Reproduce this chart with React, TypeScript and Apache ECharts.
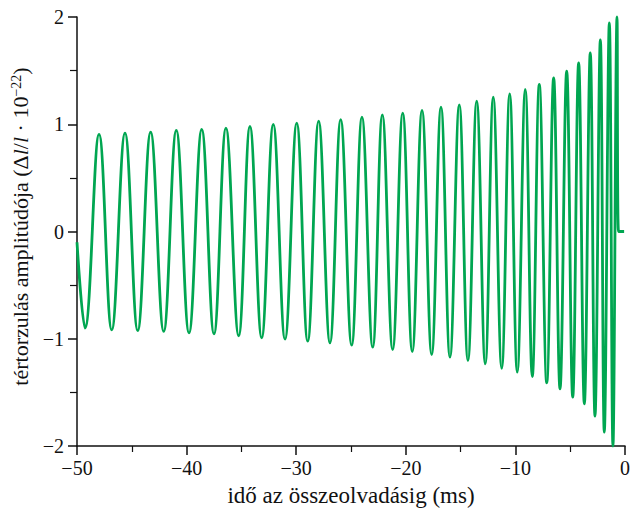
import React, { useEffect, useRef } from "react";
import * as echarts from "echarts";

// time before merger (ms) of each turning point of the waveform
const timeMs = [
  -50, -49.27, -47.99, -46.83, -45.62, -44.46, -43.28, -42.09, -40.94, -39.78,
  -38.62, -37.5, -36.41, -35.25, -34.22, -33.15, -32.09, -31.02, -29.95, -28.95,
  -27.95, -26.92, -25.94, -24.94, -24.0, -23.02, -22.14, -21.2, -20.28, -19.41,
  -18.52, -17.64, -16.79, -15.97, -15.12, -14.33, -13.53, -12.75, -12.02, -11.25,
  -10.52, -9.83, -9.1, -8.46, -7.82, -7.14, -6.51, -5.93, -5.32, -4.77,
  -4.23, -3.71, -3.17, -2.74, -2.25, -1.89, -1.43, -1.1, -0.73, -0.59, -0.08,
];
// strain amplitude (Δl/l · 10^-22) at those points
const strain = [
  -0.1, -0.9, 0.905, -0.917, 0.917, -0.923, 0.926, -0.932, 0.942, -0.945,
  0.951, -0.954, 0.963, -0.972, 0.979, -0.991, 0.998, -1.004, 1.01, -1.023,
  1.029, -1.038, 1.044, -1.06, 1.066, -1.079, 1.088, -1.1, 1.103, -1.119,
  1.128, -1.147, 1.159, -1.172, 1.181, -1.203, 1.215, -1.234, 1.252, -1.275,
  1.284, -1.312, 1.324, -1.352, 1.371, -1.411, 1.433, -1.467, 1.495, -1.545,
  1.573, -1.606, 1.666, -1.722, 1.787, -1.871, 1.946, -2.0, 2.0, 0, 0,
];

const xTitle = "idő az összeolvadásig (ms)";
const yTitle =
  "{a|tértorzulás amplitúdója (Δ}{i|l}{a|/}{i|l}{a| · 10}{s|−22}{a|)}";

const FONT = "'Liberation Serif', 'DejaVu Serif', serif";
const minus = (v: number) => String(v).replace("-", "−");

export default function App() {
  const ref = useRef<HTMLDivElement>(null);
  useEffect(() => {
    if (!ref.current) return;
    const chart = echarts.init(ref.current, undefined, { renderer: "svg" });
    const data = timeMs.map((t, i) => [t, strain[i]]);
    chart.setOption({
      animation: false,
      backgroundColor: "#ffffff",
      grid: { left: 77, right: 5, top: 17, bottom: 66, outerBoundsMode: "none", containLabel: false },
      xAxis: {
        type: "value",
        min: -50,
        max: 0,
        interval: 10,
        name: xTitle,
        nameLocation: "middle",
        nameGap: 38,
        nameTextStyle: { fontFamily: FONT, fontSize: 23, color: "#111" },
        axisLine: { show: true, onZero: false, lineStyle: { color: "#111", width: 1.5 } },
        axisTick: { show: true, inside: false, length: 9, lineStyle: { color: "#111", width: 1.5 } },
        minorTick: { show: true, splitNumber: 2, length: 6, lineStyle: { color: "#111", width: 1.2 } },
        axisLabel: { fontFamily: FONT, fontSize: 20, color: "#111", margin: 12, formatter: minus },
        splitLine: { show: false },
      },
      yAxis: {
        type: "value",
        min: -2,
        max: 2,
        interval: 1,
        name: yTitle,
        nameLocation: "middle",
        nameGap: 42,
        nameTextStyle: {
          fontFamily: FONT,
          fontSize: 22,
          color: "#111",
          padding: [0, 0, 0, 10],
          rich: {
            a: { fontFamily: FONT, fontSize: 22, color: "#111" },
            i: { fontFamily: FONT, fontSize: 22, fontStyle: "italic", color: "#111" },
            s: { fontFamily: FONT, fontSize: 14, color: "#111", verticalAlign: "top", padding: [0, 0, 8, 0] },
          },
        },
        axisLine: { show: true, onZero: false, lineStyle: { color: "#111", width: 1.5 } },
        axisTick: { show: true, inside: false, length: 9, lineStyle: { color: "#111", width: 1.5 } },
        minorTick: { show: true, splitNumber: 2, length: 7, lineStyle: { color: "#111", width: 1.2 } },
        axisLabel: { fontFamily: FONT, fontSize: 20, color: "#111", margin: 13, formatter: minus },
        splitLine: { show: false },
      },
      series: [
        {
          type: "line",
          data,
          smooth: 0.4,
          showSymbol: false,
          symbol: "none",
          lineStyle: { color: "#00A651", width: 2.8 },
          clip: false,
        },
      ],
    });
    return () => chart.dispose();
  }, []);
  return (
    <div
      ref={ref}
      style={{ position: "fixed", left: 0, top: 0, width: 630, height: 512 }}
    />
  );
}
